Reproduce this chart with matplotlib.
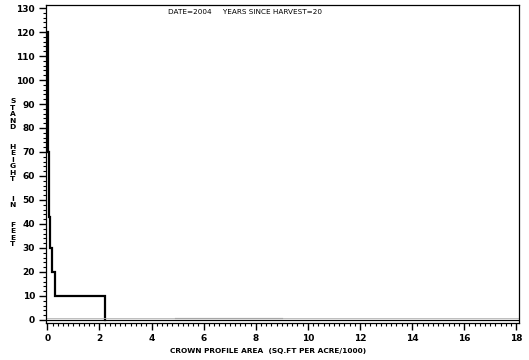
import matplotlib.pyplot as plt
import numpy as np
from matplotlib.ticker import MultipleLocator

# stand height class boundaries (ft) and crown profile area per class
heights = [0, 10, 20, 30, 43, 70, 80, 120]
areas = [2.22, 0.28, 0.18, 0.09, 0.05, 0.04, 0.03]

# faint low-height segment near the baseline
low_x = [4.9, 9.0]
low_y = [0.8, 0.8]

title = "DATE=2004     YEARS SINCE HARVEST=20"
xlabel = "CROWN PROFILE AREA  (SQ.FT PER ACRE/1000)"
ylabel = "STAND  HEIGHT  IN  FEET"

fig = plt.figure(figsize=(5.29, 3.6), dpi=100)
ax = fig.add_axes([0.087, 0.103, 0.894, 0.883])

# build the step outline: horizontal at each class top, vertical between
xs, ys = [areas[0]], [0]
for i, a in enumerate(areas):
    xs += [a, a]
    ys += [heights[i], heights[i + 1]]
    if i + 1 < len(areas):
        xs.append(areas[i + 1])
        ys.append(heights[i + 1])
xs.append(0)
ys.append(heights[-1])
ax.plot(xs, ys, color="black", lw=1.6, solid_joinstyle="miter")
ax.plot(low_x, low_y, color="0.4", lw=0.8)

ax.axhline(0, color="black", lw=0.9)
ax.axhline(0.9, color="0.7", lw=0.6)

ax.set_xlim(-0.05, 18.1)
ax.set_ylim(-1.25, 131.25)
ax.xaxis.set_major_locator(MultipleLocator(2))
ax.xaxis.set_minor_locator(MultipleLocator(0.2))
ax.yaxis.set_major_locator(MultipleLocator(10))
ax.yaxis.set_minor_locator(MultipleLocator(2))
ax.tick_params(which="major", length=5, width=1, pad=3)
ax.tick_params(axis="y", which="major", pad=3)
ax.tick_params(which="minor", length=2, width=0.8)
for lab in ax.get_xticklabels() + ax.get_yticklabels():
    lab.set_fontweight("bold")
    lab.set_fontfamily(["Liberation Sans Narrow", "DejaVu Sans"])
    lab.set_fontsize(6.5)
for s in ax.spines.values():
    s.set_linewidth(0.9)

fig.text(0.507, 0.025, xlabel, ha="center", va="center", fontsize=5.3,
         fontweight="bold")
fig.text(0.318, 0.967, title, ha="left", va="center", fontsize=5.2)
fig.text(0.024, 0.52, "\n".join(ylabel), ha="center", va="center",
         fontsize=5.4, fontweight="bold", linespacing=1.1)

fig.savefig("out.png", dpi=100)
